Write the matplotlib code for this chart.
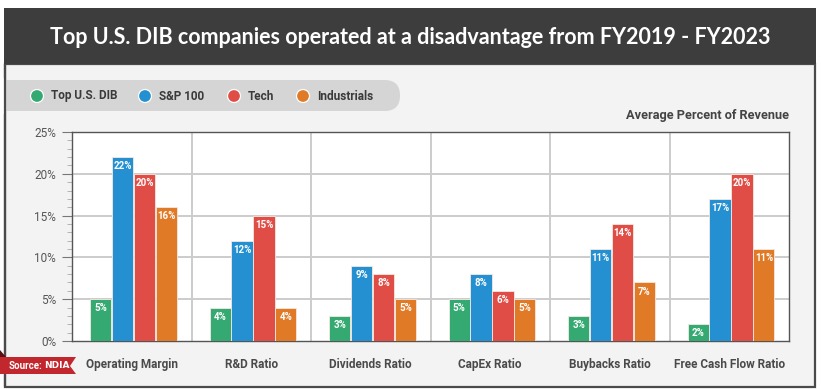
import matplotlib
matplotlib.use("Agg")
import matplotlib.pyplot as plt
from matplotlib.patches import Rectangle, FancyBboxPatch, Polygon, Circle
from matplotlib.transforms import Affine2D
from matplotlib import font_manager
import numpy as np

categories = ["Operating Margin", "R&D Ratio", "Dividends Ratio", "CapEx Ratio",
              "Buybacks Ratio", "Free Cash Flow Ratio"]
series_names = ["Top U.S. DIB", "S&P 100", "Tech", "Industrials"]
top_dib = [5, 4, 3, 5, 3, 2]
sp100 = [22, 12, 9, 8, 11, 17]
tech = [20, 15, 8, 6, 14, 20]
industrials = [16, 4, 5, 5, 7, 11]
y_ticks = [0, 5, 10, 15, 20, 25]
y_tick_labels = ["0%", "5%", "10%", "15%", "20%", "25%"]

colors = ["#35a972", "#2590d1", "#e04d47", "#e07a27"]

names = {f.name for f in font_manager.fontManager.ttflist}
cond = "Liberation Sans Narrow" if "Liberation Sans Narrow" in names else "Roboto"
title_font = "Lato" if "Lato" in names else "DejaVu Sans"

W, H = 821, 389
fig = plt.figure(figsize=(W / 100, H / 100), dpi=100)
fig.patch.set_facecolor("white")
# pixel transform, origin top-left
PX = Affine2D().scale(1, -1).translate(0, H).scale(1 / 100) + fig.dpi_scale_trans


def fx(x):
    return x / W


def fy(y):
    return 1 - y / H


# Panel
fig.patches.append(Rectangle((5, 64), 810, 323, transform=PX,
                             facecolor="#f2f3f2", edgecolor="#4a4a4a", lw=1.6, zorder=-2))
# Header
fig.patches.append(Rectangle((4, 8), 812, 56, transform=PX,
                             facecolor="#3d3d3d", edgecolor="none", zorder=-1))
fig.text(fx(410), fy(37), "Top U.S. DIB companies operated at a disadvantage from FY2019 - FY2023",
         color="white", fontsize=15.5, fontweight="bold", family=title_font,
         ha="center", va="center")

# Legend pill
fig.patches.append(FancyBboxPatch((-20, 80), 420, 31, transform=PX,
                                  boxstyle="round,pad=0,rounding_size=15.5",
                                  facecolor="#d5d5d5", edgecolor="none", zorder=-1))
fig.patches.append(Rectangle((0, 78), 6, 36, transform=PX,
                             facecolor="white", edgecolor="none", zorder=-1))
fig.patches.append(Rectangle((5, 64), 0.01, 323, transform=PX,
                             facecolor="none", edgecolor="#4a4a4a", lw=1.6, zorder=-1))
leg_cx = [37, 145, 234, 303]
for cx, c, n in zip(leg_cx, colors, series_names):
    fig.patches.append(Circle((cx, 96), radius=6.5, transform=PX,
                              facecolor=c, edgecolor="white", lw=0.9, zorder=1))
    fig.text(fx(cx + 14), fy(96), n, fontsize=8.5, fontweight="bold", family="Roboto",
             color="#3a3a3a", ha="left", va="center")

fig.text(fx(789), fy(116), "Average Percent of Revenue", fontsize=9.2, fontweight="bold",
         family="Roboto", color="#444444", ha="right", va="center")

# Axes
ax = fig.add_axes([fx(72), fy(341), 717 / W, 209 / H])
ax.set_zorder(2)
ax.set_facecolor("white")
n = len(categories)
x = np.arange(n)
bw = 0.178
offs = np.array([-1.5, -0.5, 0.5, 1.5]) * (bw + 0.005)
data = [top_dib, sp100, tech, industrials]
for s, (vals, c) in enumerate(zip(data, colors)):
    bars = ax.bar(x + offs[s] + 0.015, vals, width=bw, color=c, edgecolor="#f6e9e0",
                  linewidth=0.6, zorder=3)
    for b, v in zip(bars, vals):
        ax.annotate(f"{v}%", (b.get_x() + b.get_width() / 2, v), xytext=(0, -3),
                    textcoords="offset points", ha="center", va="top", color="white",
                    fontsize=7, fontweight="bold", family=cond, zorder=4)

ax.set_xlim(-0.5, n - 0.5)
ax.set_ylim(0, 25)
for yv in [5, 10, 15, 20]:
    ax.axhline(yv, color="#cccccc", lw=1.4, zorder=1)
for xv in np.arange(0.5, n - 0.5, 1):
    ax.axvline(xv, color="#cccccc", lw=1.4, zorder=1)

ax.set_yticks(y_ticks)
ax.set_yticklabels(y_tick_labels, fontsize=8.5, family="Roboto", color="#555555")
ax.set_yticks(np.arange(0, 26, 1), minor=True)
ax.tick_params(axis="y", which="major", length=7.5, color="#777777", width=0.8, pad=4)
ax.tick_params(axis="y", which="minor", length=3.5, color="#aaaaaa", width=0.6)
ax.set_xticks(x)
ax.set_xticklabels(categories, fontsize=8.5, fontweight="bold", family=cond, color="#4a4a4a")
ax.tick_params(axis="x", length=0, pad=12)
for sp in ax.spines.values():
    sp.set_color("#555555")
    sp.set_linewidth(1.0)

# Source ribbon
fig.patches.append(Polygon([(0, 350), (6, 357), (0, 357)],
                           closed=True, transform=PX, facecolor="#5a1010",
                           edgecolor="none", zorder=5))
fig.patches.append(Polygon([(0, 357), (76, 357), (70, 366), (76, 374), (0, 374)],
                           closed=True, transform=PX, facecolor="#c1272d",
                           edgecolor="none", zorder=5))
fig.text(fx(9), fy(366), "Source:", fontsize=7, fontweight="bold", family="Roboto",
         color="white", ha="left", va="center", zorder=6)
fig.text(fx(44), fy(366), "NDIA", fontsize=6.5, fontweight="heavy", family="DejaVu Sans",
         color="white", ha="left", va="center", zorder=6)

fig.savefig("out.png", dpi=100, facecolor="white")
